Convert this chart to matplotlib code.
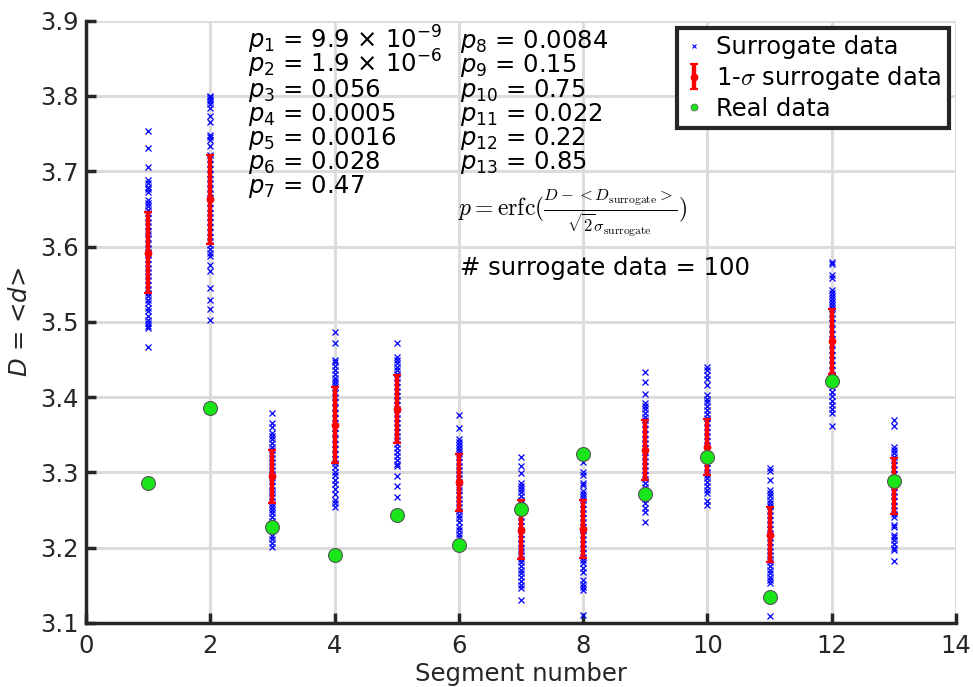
import matplotlib
matplotlib.use("Agg")
import matplotlib.pyplot as plt
from matplotlib.lines import Line2D
from matplotlib.font_manager import FontProperties

# ---------- data ----------
segments = list(range(1, 14))

# surrogate D values per segment (visible spread, read by eye)
surr = [
    [3.754, 3.731, 3.706, 3.688, 3.684, 3.679, 3.676, 3.673, 3.662, 3.658, 3.654, 3.649,
     3.644, 3.638, 3.633, 3.627, 3.621, 3.617, 3.611, 3.604, 3.598, 3.593, 3.589, 3.583,
     3.577, 3.571, 3.566, 3.561, 3.555, 3.549, 3.544, 3.538, 3.534, 3.529, 3.525, 3.519,
     3.514, 3.508, 3.503, 3.498, 3.494, 3.492, 3.467],
    [3.800, 3.798, 3.796, 3.793, 3.789, 3.784, 3.773, 3.766, 3.748, 3.745, 3.741, 3.733,
     3.722, 3.716, 3.709, 3.703, 3.697, 3.690, 3.684, 3.677, 3.671, 3.664, 3.658, 3.651,
     3.645, 3.639, 3.632, 3.626, 3.619, 3.613, 3.607, 3.602, 3.597, 3.592, 3.588, 3.576,
     3.567, 3.545, 3.529, 3.517, 3.503],
    [3.379, 3.365, 3.360, 3.352, 3.348, 3.344, 3.339, 3.334, 3.330, 3.325, 3.319, 3.314,
     3.308, 3.303, 3.298, 3.293, 3.288, 3.282, 3.277, 3.272, 3.267, 3.262, 3.258, 3.254,
     3.250, 3.246, 3.241, 3.236, 3.225, 3.216, 3.211, 3.206, 3.201],
    [3.486, 3.472, 3.449, 3.446, 3.441, 3.436, 3.431, 3.426, 3.421, 3.417, 3.413, 3.406,
     3.400, 3.393, 3.386, 3.379, 3.372, 3.366, 3.359, 3.352, 3.345, 3.338, 3.331, 3.325,
     3.318, 3.312, 3.307, 3.301, 3.296, 3.290, 3.284, 3.278, 3.271, 3.264, 3.259, 3.254],
    [3.472, 3.453, 3.449, 3.445, 3.440, 3.436, 3.431, 3.426, 3.420, 3.414, 3.408, 3.402,
     3.396, 3.390, 3.384, 3.378, 3.372, 3.366, 3.360, 3.354, 3.348, 3.343, 3.338, 3.333,
     3.327, 3.322, 3.316, 3.311, 3.309, 3.295, 3.282, 3.267],
    [3.376, 3.359, 3.345, 3.341, 3.337, 3.333, 3.329, 3.325, 3.320, 3.314, 3.309, 3.303,
     3.298, 3.292, 3.287, 3.281, 3.276, 3.270, 3.265, 3.259, 3.254, 3.249, 3.244, 3.239,
     3.234, 3.228, 3.223, 3.218, 3.214],
    [3.320, 3.309, 3.299, 3.286, 3.282, 3.278, 3.274, 3.269, 3.264, 3.259, 3.253, 3.247,
     3.241, 3.235, 3.229, 3.224, 3.218, 3.212, 3.206, 3.200, 3.195, 3.190, 3.185, 3.181,
     3.176, 3.171, 3.166, 3.161, 3.156, 3.151, 3.146, 3.130],
    [3.314, 3.301, 3.297, 3.286, 3.283, 3.275, 3.271, 3.267, 3.264, 3.258, 3.252, 3.246,
     3.240, 3.234, 3.228, 3.223, 3.217, 3.211, 3.205, 3.199, 3.193, 3.188, 3.184, 3.179,
     3.173, 3.168, 3.157, 3.152, 3.148, 3.144, 3.111],
    [3.433, 3.420, 3.404, 3.392, 3.388, 3.384, 3.379, 3.374, 3.370, 3.364, 3.358, 3.351,
     3.345, 3.339, 3.333, 3.327, 3.321, 3.315, 3.309, 3.303, 3.297, 3.291, 3.286, 3.281,
     3.276, 3.270, 3.265, 3.259, 3.253, 3.248, 3.234],
    [3.440, 3.436, 3.430, 3.424, 3.416, 3.403, 3.398, 3.393, 3.388, 3.383, 3.377, 3.372,
     3.366, 3.360, 3.354, 3.348, 3.342, 3.336, 3.330, 3.324, 3.318, 3.312, 3.306, 3.301,
     3.297, 3.292, 3.287, 3.282, 3.277, 3.272, 3.262, 3.257],
    [3.306, 3.302, 3.290, 3.277, 3.273, 3.268, 3.264, 3.259, 3.255, 3.249, 3.243, 3.237,
     3.231, 3.225, 3.219, 3.213, 3.207, 3.201, 3.195, 3.190, 3.185, 3.181, 3.176, 3.171,
     3.166, 3.161, 3.157, 3.153, 3.109],
    [3.580, 3.577, 3.562, 3.558, 3.542, 3.538, 3.534, 3.530, 3.526, 3.522, 3.518, 3.511,
     3.505, 3.498, 3.491, 3.484, 3.477, 3.470, 3.463, 3.456, 3.449, 3.442, 3.436, 3.430,
     3.425, 3.419, 3.413, 3.407, 3.401, 3.395, 3.389, 3.384, 3.379, 3.362],
    [3.369, 3.361, 3.334, 3.330, 3.326, 3.321, 3.316, 3.310, 3.304, 3.298, 3.292, 3.286,
     3.280, 3.274, 3.268, 3.262, 3.256, 3.250, 3.245, 3.241, 3.230, 3.228, 3.217, 3.214,
     3.210, 3.205, 3.199, 3.197, 3.182],
]

surr_mean = [3.592, 3.663, 3.295, 3.363, 3.384, 3.287, 3.224, 3.225, 3.330, 3.334, 3.217, 3.474, 3.282]
surr_std = [0.0535, 0.059, 0.035, 0.0505, 0.045, 0.038, 0.0395, 0.039, 0.040, 0.037, 0.0365, 0.043, 0.037]
real = [3.286, 3.385, 3.227, 3.190, 3.243, 3.203, 3.252, 3.324, 3.271, 3.321, 3.134, 3.421, 3.289]

p_left = [r"9.9 $\times$ 10$^{-9}$", r"1.9 $\times$ 10$^{-6}$", "0.056", "0.0005", "0.0016", "0.028", "0.47"]
p_right = ["0.0084", "0.15", "0.75", "0.022", "0.22", "0.85"]

# ---------- figure ----------
dark = "#262626"
green = "#19e619"

fig = plt.figure(figsize=(9.73, 6.87), dpi=100)
ax = fig.add_axes([0.0884, 0.0932, 0.8941, 0.8767])

for seg, vals in zip(segments, surr):
    ax.plot([seg] * len(vals), vals, ls="none", marker="x", color="#0000ff",
            ms=4, mew=0.9, zorder=3)

eb = ax.errorbar(segments, surr_mean, yerr=surr_std, fmt="o", color="#ff0000",
                 ms=4, mfc="none", mew=1.6, elinewidth=3.2, capsize=3, capthick=1.5,
                 zorder=4)
ax.plot(segments, real, ls="none", marker="o", ms=10, mfc=green, mec="#555555",
        mew=0.8, zorder=5)

ax.set_xlim(0, 14)
ax.set_ylim(3.1, 3.9)
ax.set_xticks(range(0, 15, 2))
ax.set_yticks([3.1 + 0.1 * i for i in range(9)])
ax.set_yticklabels(["3.1", "3.2", "3.3", "3.4", "3.5", "3.6", "3.7", "3.8", "3.9"])
ax.grid(True, color="#dcdcdc", lw=2.2)
ax.set_axisbelow(True)
for s in ("top", "right"):
    ax.spines[s].set_visible(False)
for s in ("left", "bottom"):
    ax.spines[s].set_color(dark)
    ax.spines[s].set_linewidth(2.5)
    ax.spines[s].set_zorder(6)
ax.tick_params(direction="in", length=7, width=2.5, color=dark, labelsize=17.5,
               labelcolor=dark, pad=5)
ax.tick_params(axis="x", pad=8)
ax.set_xlabel("Segment number", fontsize=17.5, color=dark, labelpad=3)
ax.set_ylabel(r"$D$ = <$d$>", fontsize=17.5, color=dark, labelpad=6)

# p-values
base, step = 3.8633, 0.0321
for i, txt in enumerate(p_left):
    ax.text(2.61, base - i * step, r"$p_{%d}$ = " % (i + 1) + txt, fontsize=17.5,
            va="baseline", ha="left", zorder=7)
for i, txt in enumerate(p_right):
    ax.text(6.02, base - i * step, r"$p_{%d}$ = " % (i + 8) + txt, fontsize=17.5,
            va="baseline", ha="left", zorder=7)

ax.text(5.99, 3.645,
        r"$p=\mathrm{erfc}(\frac{D-<D_{\rm surrogate}>}{\sqrt{2}\sigma_{\rm surrogate}})$",
        fontsize=17, va="center", ha="left", math_fontfamily="cm", zorder=7)
ax.text(6.02, 3.5623, "# surrogate data = 100", fontsize=17.5, va="baseline", ha="left",
        zorder=7)

handles = [
    Line2D([], [], ls="none", marker="x", color="#0000ff", ms=3.5, mew=0.8),
    eb,
    Line2D([], [], ls="none", marker="o", mfc=green, mec="#555555", ms=5, mew=0.5),
]
labels = ["Surrogate data", r"1-$\sigma$ surrogate data", "Real data"]
leg = ax.legend(handles, labels, loc="upper right", prop=FontProperties(size=17.5, math_fontfamily="cm"),
                fancybox=False, framealpha=1, edgecolor=dark, borderaxespad=0.3,
                handlelength=0.8, handletextpad=0.5, borderpad=0.3, labelspacing=0.2)
leg.get_frame().set_linewidth(3)
leg.set_zorder(8)

fig.savefig("out.png", dpi=100)
